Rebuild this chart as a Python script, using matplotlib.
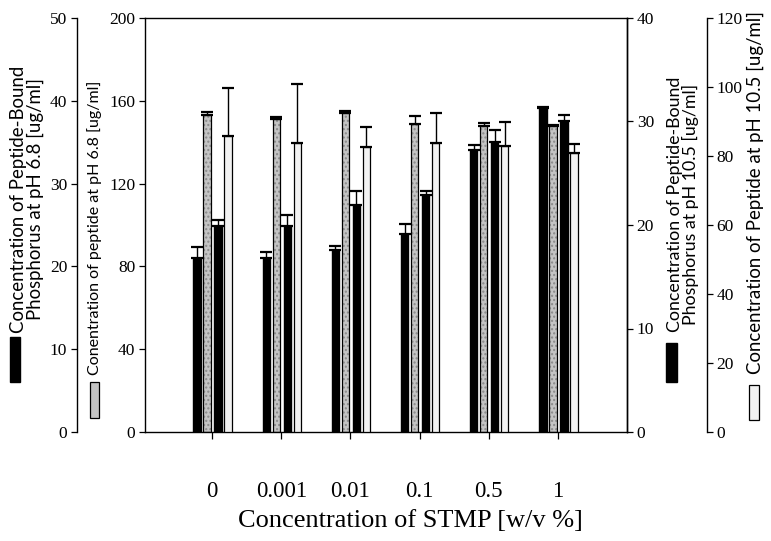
import matplotlib
matplotlib.use("Agg")
import matplotlib.pyplot as plt
from matplotlib.patches import Rectangle
import numpy as np

categories = ["0", "0.001", "0.01", "0.1", "0.5", "1"]
# Peptide-bound phosphorus at pH 6.8 (axis 0-50)
bp68 = [21.0, 21.0, 22.0, 23.9, 34.1, 39.1]
bp68_err = [1.3, 0.7, 0.5, 1.2, 0.6, 0.2]
# Peptide at pH 6.8 (axis 0-200)
p68 = [153.0, 151.2, 154.1, 148.8, 147.8, 147.8]
p68_err = [1.5, 1.0, 1.0, 4.0, 1.5, 0.5]
# Peptide-bound phosphorus at pH 10.5 (axis 0-40)
bp105 = [19.9, 19.9, 21.9, 22.9, 28.0, 30.0]
bp105_err = [0.6, 1.1, 1.4, 0.4, 1.2, 0.6]
# Peptide at pH 10.5 (axis 0-120)
p105 = [85.8, 83.8, 82.6, 83.8, 82.9, 80.9]
p105_err = [14.0, 17.0, 5.8, 8.7, 7.0, 2.6]

W, H = 771, 541
fig = plt.figure(figsize=(W / 100, H / 100), dpi=100)
L, R, T, B = 145, 627, 18, 432
ax = fig.add_axes([L / W, 1 - B / H, (R - L) / W, (B - T) / H])

serif = "Liberation Serif"
sans = "Lato"

x = np.arange(len(categories))
offs = [-0.217, -0.072, 0.087, 0.231]
bw = 0.105

ax_bp68 = ax.twinx()
ax_bp105 = ax.twinx()
ax_p105 = ax.twinx()

for a in (ax_bp68, ax_bp105, ax_p105):
    a.patch.set_visible(False)

# outer left axis
ax_bp68.yaxis.set_ticks_position("left")
ax_bp68.spines["left"].set_position(("axes", (77 - L) / (R - L)))
for s in ("right", "top", "bottom"):
    ax_bp68.spines[s].set_visible(False)
ax_bp68.spines["left"].set_visible(True)

# inner right axis
for s in ("left", "top", "bottom"):
    ax_bp105.spines[s].set_visible(False)

# outer right axis
ax_p105.spines["right"].set_position(("axes", (707 - L) / (R - L)))
for s in ("left", "top", "bottom"):
    ax_p105.spines[s].set_visible(False)

ekw = dict(ecolor="black", elinewidth=1.0, capsize=4, capthick=1.6)
zero = [0] * len(x)

ax_bp68.bar(x + offs[0], bp68, bw, color="black", edgecolor="black",
            yerr=[zero, bp68_err], error_kw=ekw)

ax.bar(x + offs[1], p68, bw, color="#c4c4c4", edgecolor="#8a8a8a",
       hatch="....", linewidth=0, yerr=[zero, p68_err], error_kw=ekw)
ax.bar(x + offs[1], p68, bw, fill=False, edgecolor="black", linewidth=0.9)

ax_bp105.bar(x + offs[2], bp105, bw, color="black", edgecolor="black",
             yerr=[zero, bp105_err], error_kw=ekw)

ax_p105.bar(x + offs[3], p105, bw, color="#f2f2f2", edgecolor="black",
            linewidth=0.9, yerr=[zero, p105_err], error_kw=ekw)

ax.set_xlim(-0.968, 5.997)
ax.set_ylim(0, 200)
ax_bp68.set_ylim(0, 50)
ax_bp105.set_ylim(0, 40)
ax_p105.set_ylim(0, 120)

ax.set_yticks(np.arange(0, 201, 40))
ax_bp68.set_yticks(np.arange(0, 51, 10))
ax_bp105.set_yticks(np.arange(0, 41, 10))
ax_p105.set_yticks(np.arange(0, 121, 20))

ax.set_xticks(x)
ax.set_xticklabels(categories)

for a in (ax, ax_bp68, ax_bp105, ax_p105):
    a.tick_params(axis="y", direction="out", length=4, width=0.9, pad=3,
                  labelsize=12.5)
    for lab in a.get_yticklabels():
        lab.set_fontfamily(serif)
    for s in a.spines.values():
        s.set_linewidth(1.0)

ax.tick_params(axis="x", direction="out", length=5, width=0.9, pad=30,
               labelsize=16.5)
for lab in ax.get_xticklabels():
    lab.set_fontfamily(serif)

fig.text(410 / W, 1 - 521 / H, "Concentration of STMP [w/v %]",
         ha="center", va="center", fontsize=19, family=serif)

# axis titles (rotated) and legend swatches
fig.text(27 / W, 1 - 199 / H,
         "Concentration of Peptide-Bound\nPhosphorus at pH 6.8 [ug/ml]",
         rotation=90, ha="center", va="center", fontsize=13.4, family=sans,
         linespacing=0.95, multialignment="center")
fig.text(95 / W, 1 - 228 / H, "Conentration of peptide at pH 6.8 [ug/ml]",
         rotation=90, ha="center", va="center", fontsize=11.5, family=sans)
fig.text(683 / W, 1 - 204 / H,
         "Concentration of Peptide-Bound\nPhosphorus at pH 10.5 [ug/ml]",
         rotation=90, ha="center", va="center", fontsize=12.8, family=sans,
         linespacing=0.95, multialignment="center")
fig.text(755 / W, 1 - 192 / H, "Concentration of Peptide at pH 10.5 [ug/ml]",
         rotation=90, ha="center", va="center", fontsize=13.4, family=sans)


def swatch(x0, y0, x1, y1, **kw):
    fig.add_artist(Rectangle((x0 / W, 1 - y1 / H), (x1 - x0) / W,
                             (y1 - y0) / H, transform=fig.transFigure, **kw))


swatch(10, 337, 20, 382, facecolor="black", edgecolor="black")
swatch(90, 382, 99, 418, facecolor="#c4c4c4", edgecolor="black",
       linewidth=0.9)
swatch(666, 343, 677, 382, facecolor="black", edgecolor="black")
swatch(749, 385, 759, 420, facecolor="#f2f2f2", edgecolor="black",
       linewidth=0.9)

fig.savefig("out.png", dpi=100)
